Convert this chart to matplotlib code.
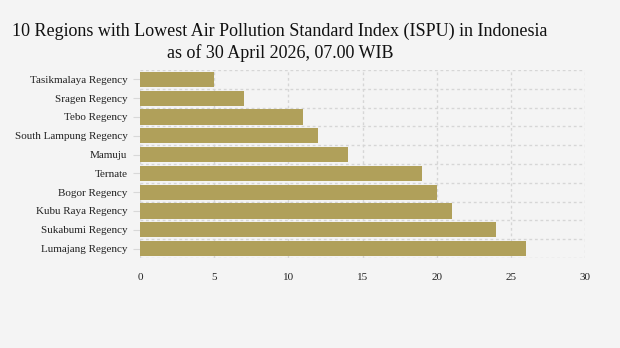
import matplotlib
matplotlib.use("Agg")
import matplotlib.pyplot as plt
import numpy as np

# ---------------- DATA ----------------
regions = [
    "Tasikmalaya Regency",
    "Sragen Regency",
    "Tebo Regency",
    "South Lampung Regency",
    "Mamuju",
    "Ternate",
    "Bogor Regency",
    "Kubu Raya Regency",
    "Sukabumi Regency",
    "Lumajang Regency",
]
ispu = [5, 7, 11, 12, 14, 19, 20, 21, 24, 26]
x_ticks = [0, 5, 10, 15, 20, 25, 30]

TITLE = ("10 Regions with Lowest Air Pollution Standard Index (ISPU) in Indonesia\n"
         "as of 30 April 2026, 07.00 WIB")

BG = "#f4f4f4"
BAR_COLOR = "#b0a05a"
GRID_COLOR = "#d6d6d6"

plt.rcParams["font.family"] = ["Liberation Serif", "DejaVu Serif"]

fig = plt.figure(figsize=(6.2, 3.48), dpi=100, facecolor=BG)
ax = fig.add_axes([140 / 620, 1 - 258 / 348, 445 / 620, 188 / 348])
ax.set_facecolor(BG)

y = np.arange(len(regions))
ax.barh(y, ispu, height=0.8, color=BAR_COLOR, zorder=3)

ax.set_ylim(len(regions) - 0.5, -0.5)
ax.set_xlim(0, 30)
ax.set_yticks(y)
ax.set_yticklabels(regions, fontsize=8, color="#222222")
ax.set_xticks(x_ticks)
ax.set_xticklabels([str(t) for t in x_ticks], fontsize=8, color="#222222")

# grid lines between categories and at x ticks
ax.set_yticks(np.arange(-0.5, len(regions), 1), minor=True)
ax.grid(axis="y", which="minor", color=GRID_COLOR, linestyle=(0, (2, 2)), linewidth=1, zorder=0)
ax.grid(axis="x", which="major", color=GRID_COLOR, linestyle=(0, (2, 2)), linewidth=1, zorder=0)
ax.tick_params(axis="y", which="minor", length=0)
ax.tick_params(axis="y", which="major", length=5, color="#d8d8d8", pad=4)
ax.tick_params(axis="x", length=0, pad=11)

for s in ax.spines.values():
    s.set_visible(False)

fig.text(280 / 620, 1 - 42 / 348, TITLE, ha="center", va="center",
         fontsize=13, color="#111111", linespacing=1.3)

fig.savefig("out.png", dpi=100, facecolor=BG)
